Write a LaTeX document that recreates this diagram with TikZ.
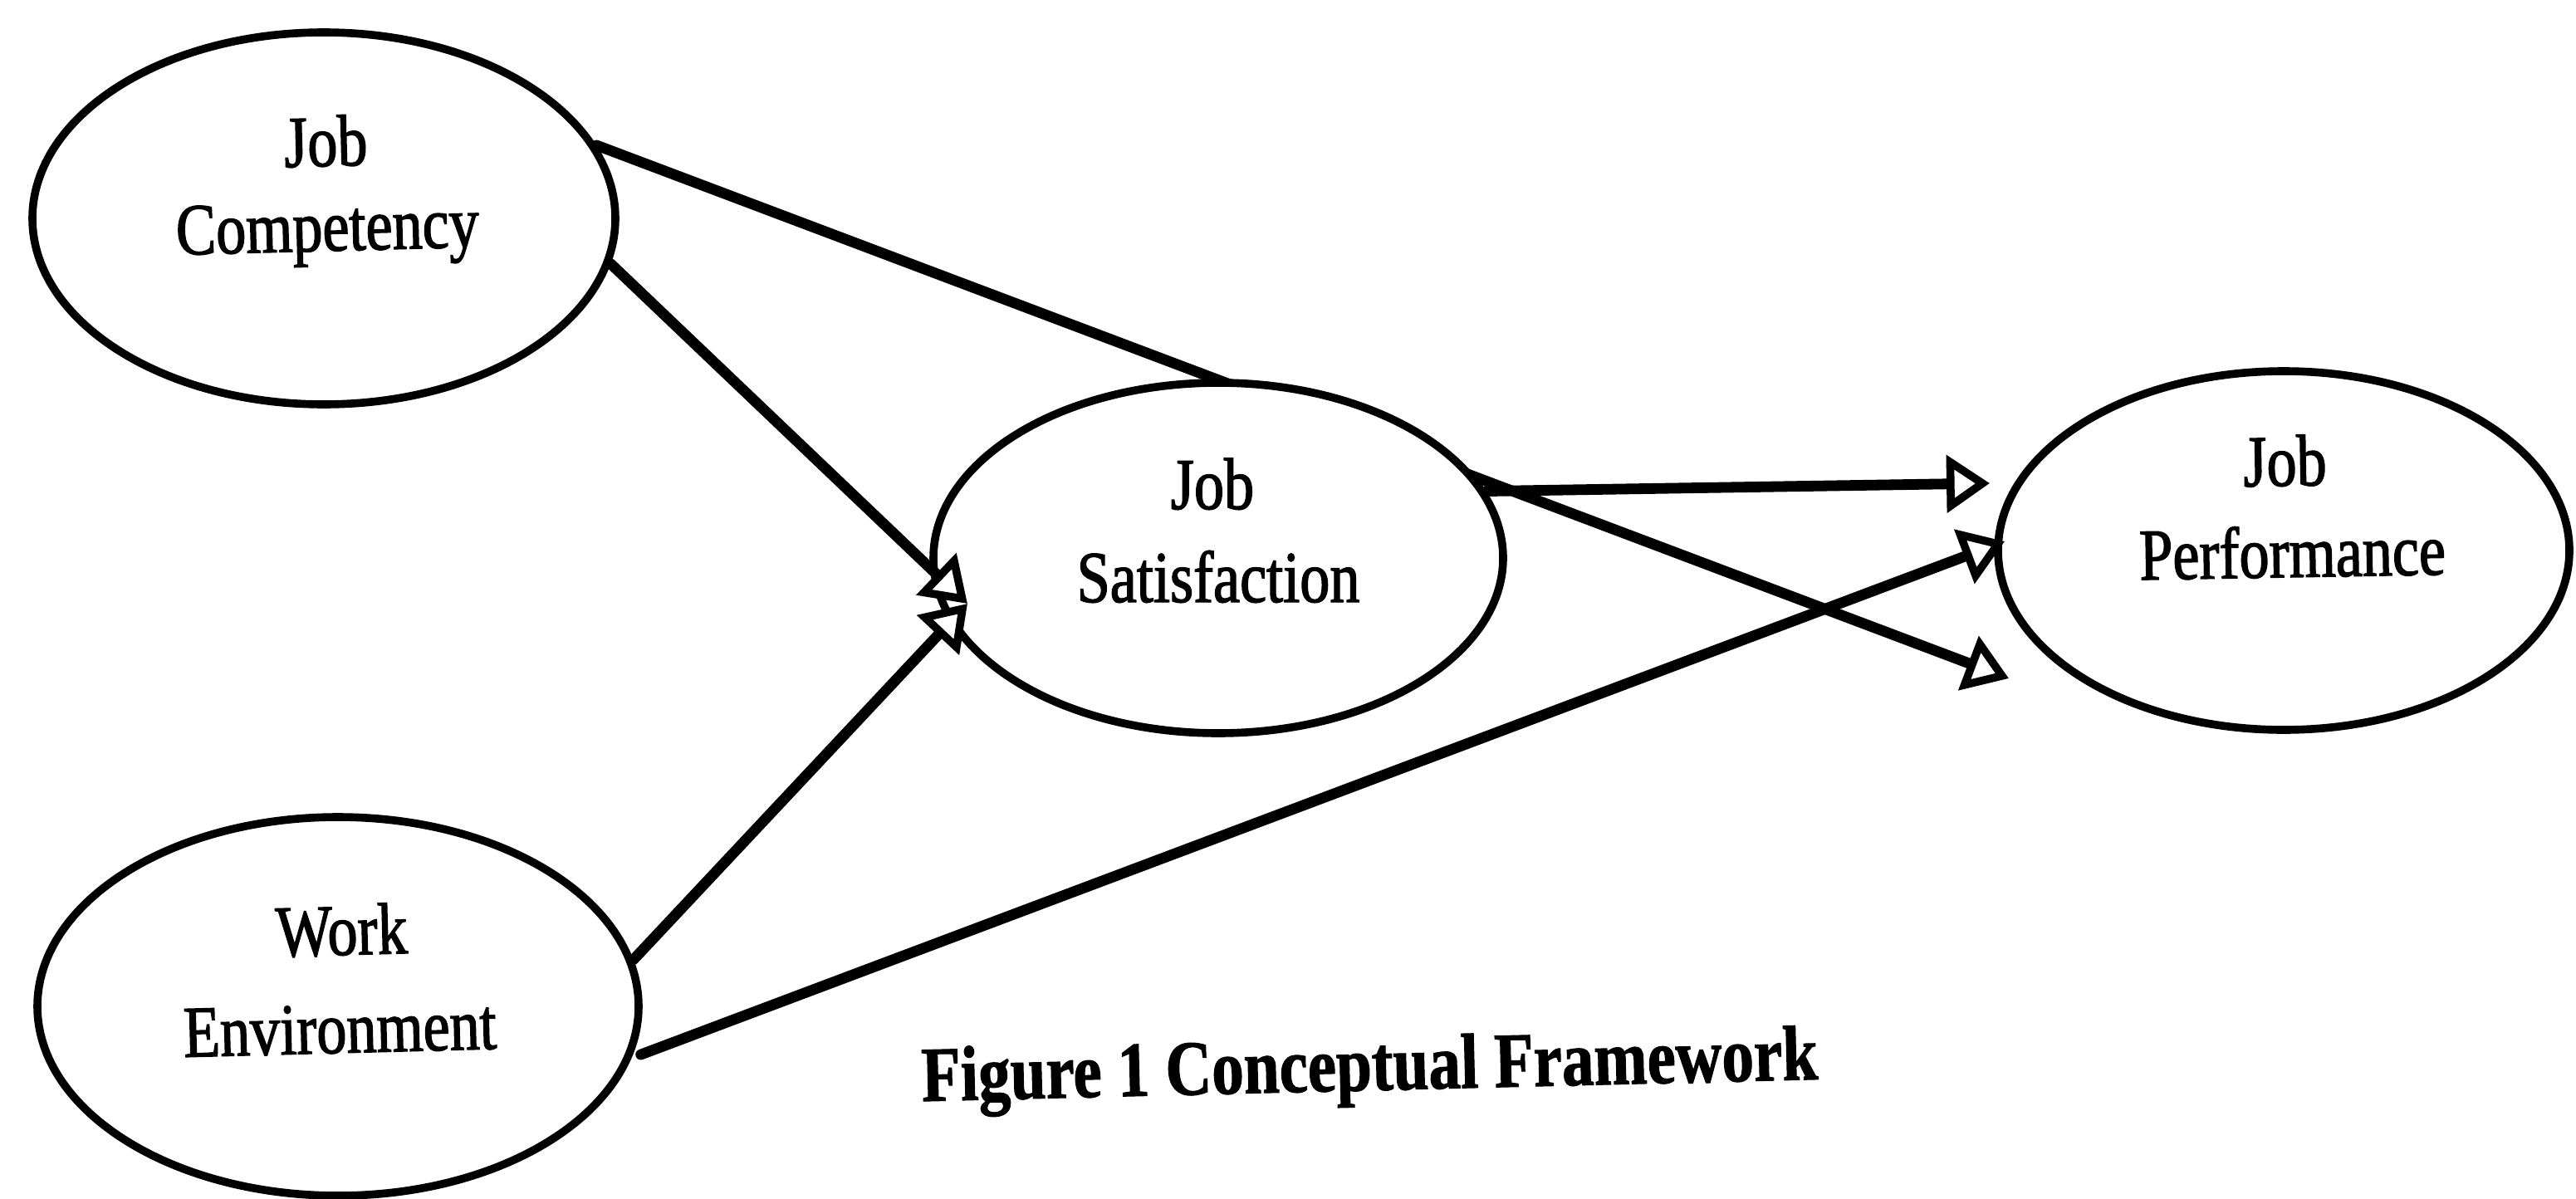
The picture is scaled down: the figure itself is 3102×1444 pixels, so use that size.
\documentclass[tikz,border=0pt]{standalone}
\usepackage{fontspec}
\newfontfamily\lblfont[FakeStretch=0.82,FakeBold=1.6]{Liberation Serif}
\newfontfamily\capfont[FakeStretch=0.82,FakeBold=1.2]{Liberation Serif}
\usetikzlibrary{shapes.geometric,arrows.meta}
\pgfdeclarelayer{back}
\pgfsetlayers{back,main}

\begin{document}
\begin{tikzpicture}[x=0.25pt,y=-0.25pt,
  construct/.style={ellipse, draw=black, line width=2.4pt, fill=white, inner sep=0pt},
  lbl/.style={font=\lblfont\fontsize{22}{26}\selectfont, anchor=base, inner sep=0pt},
  link/.style={line width=3.2pt, line cap=round,
    -{Triangle[length=13pt,width=17pt,fill=white,line width=2.4pt]}},
  caption/.style={font=\capfont\bfseries\fontsize{23.5}{28}\selectfont, anchor=base, inner sep=0pt}
]
\useasboundingbox (0,0) rectangle (3102,1444);
\begin{pgfonlayer}{back}
  \fill[white] (0,0) rectangle (3102,1444);
\end{pgfonlayer}

% constructs
\node[construct, minimum width=175.5pt, minimum height=112pt] (jc) at (390,263) {};
\node[construct, minimum width=181pt, minimum height=114pt] (we) at (407,1212) {};
\node[construct, minimum width=171.5pt, minimum height=105.5pt] (js) at (1467,672) {};
\node[construct, minimum width=172pt, minimum height=108pt] (jp) at (2750,663) {};

% construct names
\node[lbl, rotate=1.5] (jc1) at (393,200) {Job};
\node[lbl, rotate=1.5] (jc2) at (395,302) {Competency};
\node[lbl, rotate=1.5] (we1) at (412,1150) {Work};
\node[lbl, rotate=1.5] (we2) at (410,1268) {Environment};
\node[lbl] (js1) at (1460,613) {Job};
\node[lbl] (js2) at (1467,725) {Satisfaction};
\node[lbl, rotate=1] (jp1) at (2752,585) {Job};
\node[lbl, rotate=1] (jp2) at (2761,695) {Performance};

% arrow tips
\coordinate (jsTip) at (1165,727);
\coordinate (jpTipA) at (2396,582);
\coordinate (jpTipB) at (2419,817);
\coordinate (jpTipC) at (2414,652);

% direct path from competency to performance runs behind satisfaction
\begin{pgfonlayer}{back}
  \draw[link] (jc.15) -- (jpTipB);
\end{pgfonlayer}

\draw[link] (jc.-9) -- (jsTip);
\draw[link] (we.9) -- (jsTip);
\draw[link] (js.14) -- (jpTipA);
\draw[link, shorten <=3pt] (we.-10) -- (jpTipC);

\node[caption, rotate=1.4] (cap) at (1650,1313) {Figure 1 Conceptual Framework};
\end{tikzpicture}
\end{document}
